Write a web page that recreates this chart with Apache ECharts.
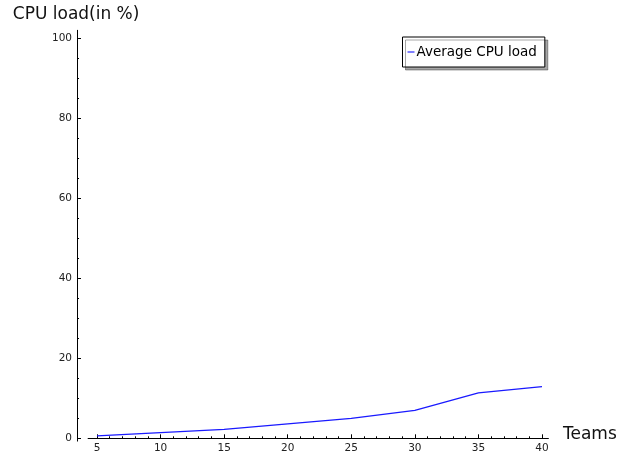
<!DOCTYPE html>
<html>
<head>
<meta charset="utf-8">
<script src="https://cdn.jsdelivr.net/npm/echarts@6/dist/echarts.min.js"></script>
<style>
html,body{margin:0;padding:0;background:#fff;}
#chart{width:630px;height:454px;}
</style>
</head>
<body>
<div id="chart"></div>
<script>
const teams = [5, 10, 15, 20, 25, 30, 35, 40];
const avgCpuLoad = [0.6, 1.4, 2.25, 3.6, 5.0, 7.0, 11.35, 12.9];
const seriesName = 'Average CPU load';
const xAxisTitle = 'Teams';
const yAxisTitle = 'CPU load(in %)';

const FONT = 'DejaVu Sans';
const chart = echarts.init(document.getElementById('chart'), null, {renderer: 'canvas'});

chart.setOption({
  animation: false,
  backgroundColor: '#ffffff',
  grid: [
    {left: 88.1, right: 81.6, top: 30.3, bottom: 12.9},
    {left: 97, right: 88, top: 38.3, bottom: 15.7}
  ],
  xAxis: [
    {
      gridIndex: 0, type: 'value', min: 4.3, max: 40.5,
      axisLine: {show: true, onZero: true, lineStyle: {color: '#000', width: 1}},
      axisTick: {show: false}, axisLabel: {show: false}, splitLine: {show: false}
    },
    {
      gridIndex: 1, type: 'value', min: 5, max: 40, interval: 5,
      axisLine: {show: false},
      axisTick: {show: true, inside: true, length: 4, lineStyle: {color: '#000', width: 1}},
      minorTick: {show: true, splitNumber: 5, length: 2, lineStyle: {color: '#000', width: 1}},
      axisLabel: {show: true, margin: 4, fontFamily: FONT, fontSize: 10.5, color: '#222'},
      splitLine: {show: false},
      name: xAxisTitle, nameLocation: 'end', nameGap: 21,
      nameTextStyle: {fontFamily: FONT, fontSize: 17, color: '#111', verticalAlign: 'bottom', lineHeight: 7}
    }
  ],
  yAxis: [
    {
      gridIndex: 0, type: 'value', min: -0.7, max: 102, offset: 11,
      axisLine: {show: true, onZero: false, lineStyle: {color: '#000', width: 1}},
      axisTick: {show: false}, axisLabel: {show: false}, splitLine: {show: false},
      name: yAxisTitle, nameLocation: 'end', nameGap: 7,
      nameTextStyle: {fontFamily: FONT, fontSize: 17, color: '#111', align: 'center', padding: [0, 2, 0, 0]}
    },
    {
      gridIndex: 1, type: 'value', min: 0, max: 100, interval: 20, offset: 20,
      axisLine: {show: false},
      axisTick: {show: true, inside: true, length: 4, lineStyle: {color: '#000', width: 1}},
      minorTick: {show: true, splitNumber: 4, length: 2, lineStyle: {color: '#000', width: 1}},
      axisLabel: {show: true, margin: 5, fontFamily: FONT, fontSize: 10.5, color: '#222'},
      splitLine: {show: false}
    }
  ],
  legend: {
    show: true,
    left: 402.5, top: 37,
    orient: 'vertical',
    backgroundColor: '#fff',
    borderColor: '#000', borderWidth: 1, borderRadius: 0,
    shadowColor: 'rgba(0,0,0,0.35)', shadowOffsetX: 3, shadowOffsetY: 3, shadowBlur: 0,
    padding: [7, 8, 7, 5],
    itemWidth: 7, itemHeight: 1, itemGap: 0,
    icon: 'rect',
    textStyle: {fontFamily: FONT, fontSize: 13.5, lineHeight: 16, color: '#000', padding: [0, 0, 0, -3]},
    data: [seriesName]
  },
  series: [{
    name: seriesName,
    type: 'line',
    xAxisIndex: 1, yAxisIndex: 1,
    data: teams.map((t, i) => [t, avgCpuLoad[i]]),
    showSymbol: false,
    symbol: 'none',
    itemStyle: {color: '#0000ff'},
    lineStyle: {color: '#1a1aff', width: 1.3},
    silent: true
  }]
});
</script>
</body>
</html>
